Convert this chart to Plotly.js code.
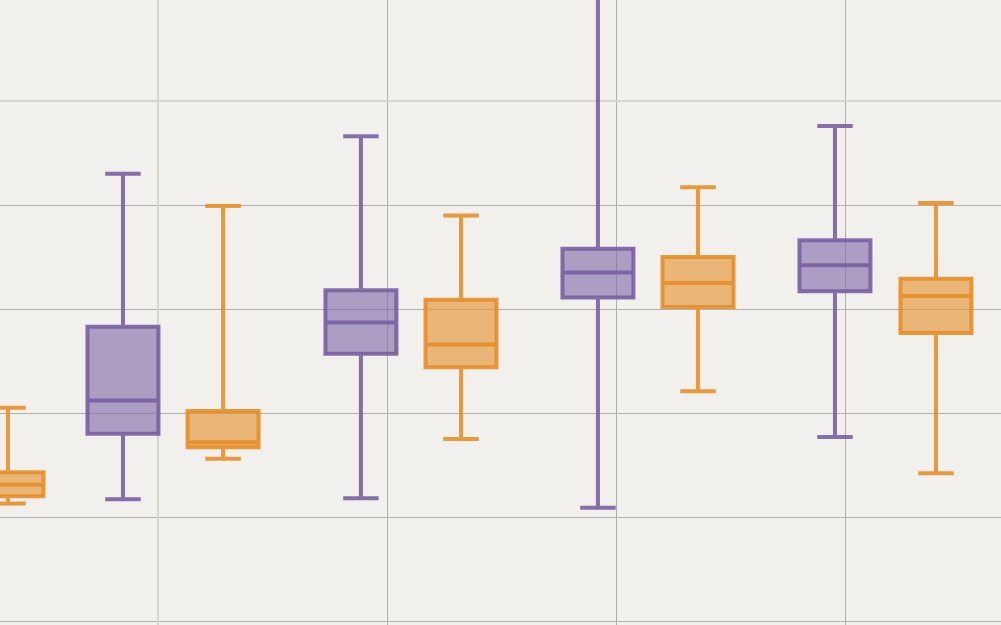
<!DOCTYPE html>
<html>
<head>
<meta charset="utf-8">
<script src="https://cdn.plot.ly/plotly-3.0.1.min.js"></script>
<style>html,body{margin:0;padding:0;background:#f1f0ec;}#chart{width:1001px;height:625px;}</style>
</head>
<body>
<div id="chart"></div>
<script>
// Series A (purple): positions and box statistics
const purpleX = [-1.53, 8.86, 19.21, 29.56];
const purpleUpper = [-7.0, -3.4, 13.6, -2.4];
const purpleQ3 = [-21.7, -18.2, -14.2, -13.4];
const purpleMedian = [-28.8, -21.3, -16.5, -15.8];
const purpleQ1 = [-32.0, -24.3, -18.9, -18.3];
const purpleLower = [-38.3, -38.2, -39.1, -32.3];

// Series B (orange): positions and box statistics
const orangeX = [-6.55, 2.84, 13.23, 23.58, 33.97];
const orangeUpper = [-29.5, -10.1, -11.0, -8.3, -9.8];
const orangeQ3 = [-35.7, -29.8, -19.1, -15.0, -17.1];
const orangeMedian = [-36.9, -32.8, -23.4, -17.5, -18.75];
const orangeQ1 = [-38.0, -33.3, -25.6, -19.8, -22.3];
const orangeLower = [-38.7, -34.4, -32.5, -27.9, -35.8];

const purpleTrace = {
  type: 'box', name: 'A', x: purpleX,
  q1: purpleQ1, median: purpleMedian, q3: purpleQ3, lowerfence: purpleLower, upperfence: purpleUpper,
  boxpoints: false, width: 3.1, whiskerwidth: 0.5,
  line: {color: 'rgba(117,92,160,0.88)', width: 4},
  fillcolor: 'rgba(127,104,169,0.6)'
};
const orangeTrace = {
  type: 'box', name: 'B', x: orangeX,
  q1: orangeQ1, median: orangeMedian, q3: orangeQ3, lowerfence: orangeLower, upperfence: orangeUpper,
  boxpoints: false, width: 3.1, whiskerwidth: 0.5,
  line: {color: 'rgba(230,140,35,0.88)', width: 4},
  fillcolor: 'rgba(230,144,44,0.6)'
};
const layout = {
  width: 1001, height: 625,
  margin: {l: 0, r: 0, t: 0, b: 0, pad: 0},
  paper_bgcolor: '#f1f0ec', plot_bgcolor: '#f1f0ec',
  showlegend: false, boxmode: 'overlay',
  xaxis: {range: [-6.9, 36.81], dtick: 10, tick0: 0, showticklabels: false, ticks: '',
          gridcolor: '#b1b0ac', gridwidth: 1, zeroline: true, zerolinecolor: '#d6d5d0', zerolinewidth: 2, showline: false},
  yaxis: {range: [-50.38, 9.71], dtick: 10, tick0: 0, showticklabels: false, ticks: '',
          gridcolor: '#b1b0ac', gridwidth: 1, zeroline: true, zerolinecolor: '#d6d5d0', zerolinewidth: 2, showline: false}
};
Plotly.newPlot('chart', [purpleTrace, orangeTrace], layout, {displayModeBar: false, staticPlot: true});
</script>
</body>
</html>
